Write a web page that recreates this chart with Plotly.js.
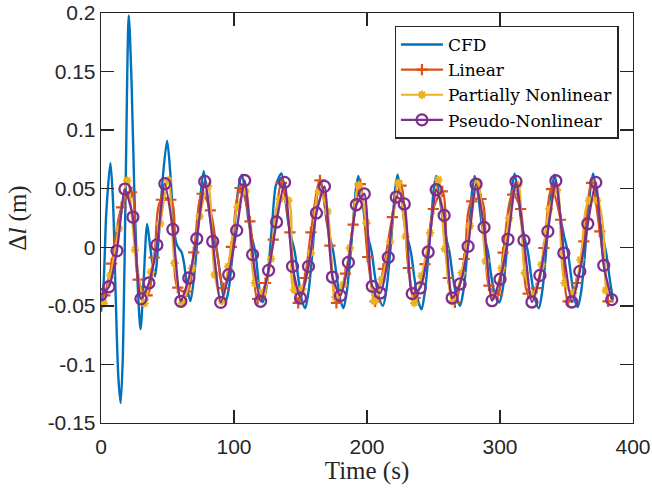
<!DOCTYPE html>
<html><head><meta charset="utf-8">
<script src="https://cdn.plot.ly/plotly-3.0.1.min.js"></script>
<style>html,body{margin:0;padding:0;background:#fff;}#chart{width:652px;height:495px;}</style>
</head><body><div id="chart"></div>
<script>
// CFD (blue, smooth line)
const cfdT = [0, 2, 4, 7.1, 9, 11, 13, 14.8, 16.5, 18.5, 20.9, 23, 25, 27.5, 29.7, 32, 34.7, 37, 40.5, 43.5, 46.5, 49.7, 52, 54, 56.5, 58.5, 60.5, 62.5, 65, 67.2, 69.5, 72, 74.5, 77.2,
  79.7, 82.2, 84.7, 87.2, 89.7, 91.7, 93.5, 96, 98.5, 101, 103.5, 106,
  108.5, 111, 113.5, 116, 118.5, 120, 121.5, 124, 126.5, 129, 131.5, 135.7,
  138.2, 140.7, 143.2, 145.7, 148.2, 151, 153.5, 156, 158.5, 161, 162.5, 164.7,
  167.2, 169.7, 172.2, 174.7, 177.2, 180, 182.3, 184.8, 187.3, 189.8, 191.5, 193.5,
  196, 198.5, 201, 203.5, 206, 209, 212, 214.5, 217, 219.5, 221, 223,
  225.5, 228, 230.5, 233, 235.5, 238.5, 241, 243.5, 246, 248.5, 250, 252,
  254.5, 257, 259.5, 262, 264.5, 267.5, 270, 272.5, 275, 277.5, 279, 281,
  283.5, 286, 288.5, 291, 293.5, 296.5, 299.5, 302, 304.5, 307, 309, 311,
  313.5, 316, 318.5, 321, 323.5, 326.5, 329.2, 331.7, 334.2, 336.7, 339, 341,
  343.5, 346, 348.5, 351, 353.5, 356, 358.5, 361, 363.5, 366, 368, 370,
  372.5, 375, 377.5, 380, 382.5, 385];
const cfdV = [-0.055, -0.03, 0.03, 0.072, 0.04, -0.04, -0.11, -0.133, -0.09, 0.05, 0.198, 0.14, 0.05, -0.03, -0.07, -0.03, 0.02, 0.0, -0.025, 0.01, 0.06, 0.091, 0.065, 0.03, 0.004, -0.001, -0.004, -0.014, -0.036, -0.046, -0.03, 0.0, 0.04, 0.065,
  0.047, 0.024, 0.009, -0.004, -0.024, -0.04, -0.047, -0.036, -0.01, 0.025, 0.052, 0.062,
  0.045, 0.022, 0.008, -0.004, -0.03, -0.042, -0.047, -0.037, -0.01, 0.025, 0.053, 0.063,
  0.045, 0.022, 0.008, -0.004, -0.025, -0.045, -0.052, -0.038, -0.01, 0.025, 0.045, 0.058,
  0.044, 0.022, 0.008, -0.004, -0.025, -0.045, -0.052, -0.038, -0.01, 0.025, 0.048, 0.061,
  0.045, 0.022, 0.008, -0.004, -0.025, -0.043, -0.050, -0.037, -0.01, 0.025, 0.048, 0.062,
  0.045, 0.022, 0.008, -0.004, -0.025, -0.046, -0.053, -0.038, -0.01, 0.025, 0.048, 0.061,
  0.045, 0.022, 0.008, -0.004, -0.025, -0.043, -0.050, -0.037, -0.01, 0.025, 0.048, 0.061,
  0.045, 0.022, 0.008, -0.004, -0.025, -0.042, -0.047, -0.036, -0.01, 0.025, 0.050, 0.063,
  0.045, 0.022, 0.008, -0.004, -0.025, -0.045, -0.052, -0.038, -0.01, 0.025, 0.049, 0.062,
  0.045, 0.022, 0.008, -0.004, -0.025, -0.044, -0.051, -0.038, -0.01, 0.025, 0.050, 0.063,
  0.046, 0.023, 0.008, -0.006, -0.027, -0.045];

// Linear (orange, + markers)
const linT = [2.9, 8, 15.4, 22.9, 27.9, 34.7, 40, 45.4, 52.5, 57.7, 64.7, 69.7, 76, 82.2, 92.2, 98, 104.5, 112, 117.8, 123.7, 129.5, 135.7, 142, 148.3, 153.3, 157.8, 164.6, 172.1, 177, 183.8, 189.6, 195, 200.5, 206.1, 212.3, 219.1, 225.6, 231.1, 236.1, 243.6, 249.9, 256.6, 261.1, 266.1, 273.1, 278.7, 285.7, 291.7, 298.2, 302.3, 309.5, 315.5, 321.2, 327.5, 333, 338.7, 345.5, 351.2, 357.5, 363, 368.8, 375, 381.2];
const linV = [-0.041, -0.014, 0.034, 0.047, -0.0276, -0.041, -0.0087, 0.0406, 0.0406, -0.0345, -0.0376, -0.0043, 0.0457, 0.0315, -0.0348, 0.0003, 0.0506, 0.0221, -0.044, -0.0305, 0.0065, 0.0549, 0.0127, -0.0475, -0.0262, 0.0127, 0.0571, 0.0014, -0.0475, -0.0225, 0.0193, 0.054, -0.0083, -0.0461, -0.0185, 0.0258, 0.0526, -0.0177, -0.0433, -0.0143, 0.0327, 0.0477, -0.0262, -0.047, -0.01, 0.0392, 0.0412, -0.0328, -0.0404, -0.0045, 0.0449, 0.0327, -0.0396, -0.0348, -0.0006, 0.0497, 0.0235, -0.0461, -0.0305, 0.005, 0.0549, 0.0136, -0.0461];

// Partially Nonlinear (yellow, asterisk markers)
const parT = [2.1, 7.1, 13.4, 19.7, 25.6, 32.7, 37.6, 44.5, 50.6, 55.3, 61, 68.5, 74.2, 80.5, 85.5, 91, 95.7, 102.7, 108.7, 115.8, 122, 127.8, 134.5, 140.8, 145.3, 151.3, 157.8, 163.8, 170.3, 176.3, 182.1, 187.1, 193.8, 199.6, 205.6, 211.1, 217.3, 223.6, 229.1, 235.6, 241.1, 247.4, 253.6, 258.6, 264.5, 271.2, 277.4, 283.5, 289.2, 294.9, 301.2, 306.9, 313.7, 318.7, 324.5, 331.2, 337, 343, 348.7, 355, 360.5, 367, 373, 379.5];
const parV = [-0.048, -0.024, 0.016, 0.057, -0.002, -0.0478, -0.021, 0.02, 0.057, -0.0134, -0.0475, -0.0177, 0.0264, 0.052, -0.0234, -0.046, -0.0163, 0.0344, 0.0477, -0.0305, -0.0385, -0.01, 0.0412, 0.04, -0.0362, -0.0356, -0.0049, 0.0477, 0.0306, -0.0424, -0.0319, -0.0006, 0.053, 0.0207, -0.0461, -0.0276, 0.005, 0.0549, 0.0093, -0.0475, -0.0242, 0.0122, 0.0577, -0.0015, -0.046, -0.0219, 0.0184, 0.0549, -0.012, -0.0419, -0.018, 0.025, 0.0534, -0.0219, -0.0404, -0.0148, 0.0327, 0.0486, -0.0305, -0.039, -0.0106, 0.04, 0.04, -0.0368];

// Pseudo-Nonlinear (purple, circle markers)
const pseT = [0, 6, 12, 18, 24, 30, 36, 42, 48, 54, 60, 66, 72, 78, 84, 90, 96, 102, 108, 114, 120, 126, 132, 138, 144, 150, 156, 162, 168, 174, 180, 186, 192, 198, 204, 210, 216, 222, 228, 234, 240, 246, 252, 258, 264, 270, 276, 282, 288, 294, 300, 306, 312, 318, 324, 330, 336, 342, 348, 354, 360, 366, 372, 378, 384];
const pseV = [-0.0405, -0.0337, -0.003, 0.0497, 0.0258, -0.044, -0.0305, 0.002, 0.0543, 0.0153, -0.0461, -0.0262, 0.0073, 0.0562, 0.005, -0.047, -0.0234, 0.0144, 0.057, -0.0063, -0.0461, -0.0197, 0.0216, 0.0554, -0.0163, -0.0433, -0.0163, 0.0293, 0.052, -0.0254, -0.0413, -0.0129, 0.0363, 0.0456, -0.0333, -0.039, -0.0086, 0.0429, 0.037, -0.0396, -0.0347, -0.004, 0.0491, 0.0272, -0.0433, -0.0313, 0.0008, 0.054, 0.017, -0.0456, -0.0273, 0.0068, 0.0562, 0.0059, -0.0467, -0.024, 0.0136, 0.0568, -0.0049, -0.0467, -0.0206, 0.0201, 0.0554, -0.0154, -0.0447];

const xTicks = [0, 100, 200, 300, 400];
const xTickText = ['0', '100', '200', '300', '400'];
const yTicks = [-0.15, -0.1, -0.05, 0, 0.05, 0.1, 0.15, 0.2];
const yTickText = ['-0.15', '-0.1', '-0.05', '0', '0.05', '0.1', '0.15', '0.2'];

const blue = '#0072BD', orange = '#D95319', yellow = '#EDB120', purple = '#7E2F8E';
const axisColor = '#262626';
const serif = "'Liberation Serif', 'Times New Roman', serif";

const traces = [
  {x: cfdT, y: cfdV, name: 'CFD', mode: 'lines', line: {color: blue, width: 2.4, shape: 'spline', smoothing: 0.8}},
  {x: linT, y: linV, name: 'Linear', mode: 'lines+markers', line: {color: orange, width: 2.2, shape: 'spline', smoothing: 1},
   marker: {symbol: 'cross-thin', size: 8, line: {color: orange, width: 2.2}, color: orange}},
  {x: parT, y: parV, name: 'Partially Nonlinear', mode: 'lines+markers', line: {color: yellow, width: 2.2, shape: 'spline', smoothing: 1},
   marker: {symbol: 'asterisk', size: 7, line: {color: yellow, width: 2}, color: yellow}},
  {x: pseT, y: pseV, name: 'Pseudo-Nonlinear', mode: 'lines+markers', line: {color: purple, width: 2.3, shape: 'spline', smoothing: 0.6},
   marker: {symbol: 'circle-open', size: 11, line: {color: purple, width: 2.3}, color: purple}}
];

const axisCommon = {
  showgrid: false, zeroline: false, showline: true, linecolor: axisColor, linewidth: 1.3,
  mirror: 'ticks', ticks: 'inside', ticklen: 13, tickwidth: 1.3, tickcolor: axisColor,
  tickfont: {family: "'Liberation Sans', Arial, sans-serif", size: 21, color: axisColor}
};

const layout = {
  width: 652, height: 495,
  margin: {l: 100.5, r: 18.5, t: 13, b: 71.6},
  paper_bgcolor: '#fff', plot_bgcolor: '#fff',
  showlegend: true,
  xaxis: Object.assign({}, axisCommon, {
    range: [0, 400], tickvals: xTicks, ticktext: xTickText, ticklabelstandoff: 4,
    title: {text: 'Time (s)', font: {family: serif, size: 25, color: axisColor}, standoff: 2}
  }),
  yaxis: Object.assign({}, axisCommon, {
    range: [-0.15, 0.2], tickvals: yTicks, ticktext: yTickText,
    title: {text: 'Δ<i>l</i> (m)', font: {family: serif, size: 25, color: axisColor}, standoff: 14}
  }),
  legend: {
    x: 0.973, y: 0.969, xanchor: 'right', yanchor: 'top',
    bgcolor: '#fff', bordercolor: axisColor, borderwidth: 1.3,
    font: {family: "'DejaVu Serif', serif", size: 17, color: '#000'},
    itemwidth: 42, tracegroupgap: 0
  }
};

Plotly.newPlot('chart', traces, layout, {staticPlot: true, displayModeBar: false});
</script></body></html>
